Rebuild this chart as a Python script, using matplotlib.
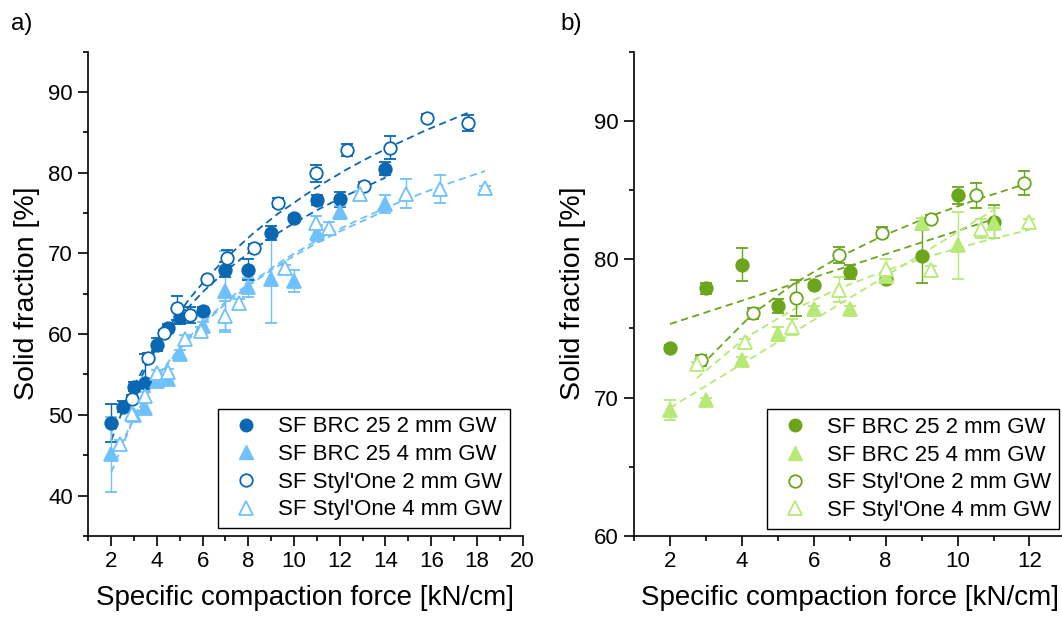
import numpy as np
import matplotlib.pyplot as plt
from matplotlib.lines import Line2D
from matplotlib.ticker import MultipleLocator

plt.rcParams['font.family'] = ['Liberation Sans', 'DejaVu Sans']

# colours
blue_dark = '#0A67B2'
blue_light = '#6EC1FC'
green_dark = '#6AA51C'
green_light = '#B6E975'

labels = ["SF BRC 25 2 mm GW", "SF BRC 25 4 mm GW",
          "SF Styl'One 2 mm GW", "SF Styl'One 4 mm GW"]

# ---- panel a) ----
a_brc2_x = [2, 2.5, 3, 3.5, 4, 4.5, 5, 6, 7, 8, 9, 10, 11, 12, 14]
a_brc2_y = [49.0, 51.0, 53.5, 53.9, 58.7, 60.7, 62.1, 62.9, 68.0, 68.0, 72.5, 74.4, 76.6, 76.7, 80.5]
a_brc2_e = [2.3, 0.7, 0.6, 3.6, 0.8, 0.5, 0.9, 0.4, 0.9, 1.3, 0.9, 0.3, 0.6, 0.9, 0.8]

a_brc4_x = [2, 3, 3.5, 4, 4.5, 5, 6, 7, 8, 9, 10, 11, 12, 14]
a_brc4_y = [45.1, 50.0, 50.9, 54.2, 54.5, 57.5, 61.0, 65.4, 65.8, 66.8, 66.6, 72.5, 75.1, 76.1]
a_brc4_e = [4.6, 0.5, 0.8, 0.4, 0.4, 0.5, 0.5, 4.9, 1.2, 5.4, 1.4, 1.0, 0.8, 1.1]

a_sty2_x = [2.9, 3.6, 4.3, 4.9, 5.45, 6.2, 7.05, 8.25, 9.3, 10.95, 12.3, 13.05, 14.2, 15.8, 17.6]
a_sty2_y = [52.0, 57.1, 60.1, 63.2, 62.4, 66.8, 69.4, 70.7, 76.3, 79.9, 82.8, 78.4, 83.1, 86.8, 86.1]
a_sty2_e = [0.5, 0.6, 0.4, 1.5, 1.0, 0.3, 1.0, 0.5, 0.6, 1.1, 0.8, 0.4, 1.4, 0.4, 1.0]

a_sty4_x = [2.4, 2.9, 3.5, 4.0, 4.5, 5.25, 5.95, 7.0, 7.6, 9.6, 10.95, 11.55, 12.9, 14.9, 16.4, 18.35]
a_sty4_y = [46.4, 50.1, 52.3, 55.2, 55.3, 59.4, 60.4, 62.2, 63.8, 68.2, 73.8, 73.1, 77.3, 77.4, 78.0, 78.1]
a_sty4_e = [0.5, 0.4, 0.5, 0.4, 0.4, 0.5, 0.5, 1.9, 0.6, 0.4, 0.8, 0.8, 0.4, 1.8, 1.7, 0.3]

# ---- panel b) ----
b_brc2_x = [2, 3, 4, 5, 6, 7, 8, 9, 10, 11]
b_brc2_y = [73.6, 77.9, 79.6, 76.6, 78.1, 79.1, 78.6, 80.2, 84.6, 82.7]
b_brc2_e = [0.2, 0.4, 1.2, 0.5, 0.2, 0.5, 0.3, 1.9, 0.6, 1.2]

b_brc4_x = [2, 3, 4, 5, 6, 7, 8, 9, 10, 11]
b_brc4_y = [69.1, 69.8, 72.7, 74.6, 76.4, 76.4, 78.8, 82.6, 81.0, 82.6]
b_brc4_e = [0.7, 0.2, 0.2, 0.5, 0.2, 0.2, 0.3, 0.4, 2.4, 1.1]

b_sty2_x = [2.85, 4.3, 5.5, 6.7, 7.9, 9.25, 10.5, 11.85]
b_sty2_y = [72.7, 76.1, 77.2, 80.3, 81.9, 82.9, 84.6, 85.5]
b_sty2_e = [0.4, 0.4, 1.3, 0.6, 0.4, 0.3, 0.9, 0.9]

b_sty4_x = [2.75, 4.1, 5.4, 6.7, 8.0, 9.25, 10.65, 12.0]
b_sty4_y = [72.4, 74.0, 75.1, 77.8, 79.3, 79.2, 82.2, 82.7]
b_sty4_e = [0.2, 0.2, 0.6, 0.9, 0.7, 0.3, 0.7, 0.2]


def draw_series(ax, x, y, e, marker, color, filled, fit='log'):
    mfc = color if filled else 'white'
    ax.errorbar(x, y, yerr=e, fmt=marker, ms=9 if marker == 'o' else 10,
                mfc=mfc, mec=color, mew=1.3, ecolor=color, elinewidth=1.0,
                capsize=4.5, capthick=1.0, ls='none', zorder=3)
    # fit line, evaluated at the measured forces
    xs = np.sort(np.asarray(x, dtype=float))
    if fit == 'log':
        k, d = np.polyfit(np.log(x), y, 1)
        ys = k * np.log(xs) + d
    else:
        k, d = np.polyfit(x, y, 1)
        ys = k * xs + d
    ax.plot(xs, ys, ls=(0, (4, 2.5)), color=color, lw=1.3, zorder=2)


def style_axes(ax, xmax, ymin, xmajor):
    ax.spines['top'].set_visible(False)
    ax.spines['right'].set_visible(False)
    ax.spines['left'].set_linewidth(1.2)
    ax.spines['bottom'].set_linewidth(1.2)
    ax.set_xlim(1, xmax)
    ax.set_ylim(ymin, 95)
    ax.xaxis.set_major_locator(MultipleLocator(xmajor))
    ax.xaxis.set_minor_locator(MultipleLocator(1))
    ax.yaxis.set_major_locator(MultipleLocator(10))
    ax.yaxis.set_minor_locator(MultipleLocator(5))
    ax.tick_params(which='major', direction='out', length=7, width=1.2, labelsize=16, pad=4)
    ax.tick_params(which='minor', direction='out', length=3.5, width=1.2)
    ax.set_xlabel('Specific compaction force [kN/cm]', fontsize=20, labelpad=9)
    ax.set_ylabel('Solid fraction [%]', fontsize=20.5, labelpad=6)


def add_legend(ax, colors, anchor):
    dark, light = colors
    handles = [
        Line2D([], [], ls='none', marker='o', ms=9, mfc=dark, mec=dark),
        Line2D([], [], ls='none', marker='^', ms=10, mfc=light, mec=light),
        Line2D([], [], ls='none', marker='o', ms=9, mfc='white', mec=dark, mew=1.3),
        Line2D([], [], ls='none', marker='^', ms=10, mfc='white', mec=light, mew=1.3),
    ]
    leg = ax.legend(handles, labels, loc='lower left', bbox_to_anchor=anchor,
                    borderaxespad=0, fontsize=16, frameon=True, fancybox=False,
                    edgecolor='black', framealpha=1, labelspacing=0.3,
                    borderpad=0.35, handlelength=1.8, handletextpad=0.55)
    leg.get_frame().set_linewidth(1.0)
    leg.set_clip_on(False)


fig = plt.figure(figsize=(10.62, 6.19), dpi=100)
ax1 = fig.add_axes([0.0832, 0.1341, 0.4089, 0.7827])
ax2 = fig.add_axes([0.5970, 0.1341, 0.4062, 0.7827])

draw_series(ax1, a_brc2_x, a_brc2_y, a_brc2_e, 'o', blue_dark, True)
draw_series(ax1, a_brc4_x, a_brc4_y, a_brc4_e, '^', blue_light, True)
draw_series(ax1, a_sty2_x, a_sty2_y, a_sty2_e, 'o', blue_dark, False)
draw_series(ax1, a_sty4_x, a_sty4_y, a_sty4_e, '^', blue_light, False)
style_axes(ax1, 20, 35, 2)
add_legend(ax1, (blue_dark, blue_light), (0.298, 0.016))

draw_series(ax2, b_brc2_x, b_brc2_y, b_brc2_e, 'o', green_dark, True, fit='lin')
draw_series(ax2, b_brc4_x, b_brc4_y, b_brc4_e, '^', green_light, True, fit='lin')
draw_series(ax2, b_sty2_x, b_sty2_y, b_sty2_e, 'o', green_dark, False)
draw_series(ax2, b_sty4_x, b_sty4_y, b_sty4_e, '^', green_light, False)
style_axes(ax2, 13, 60, 2)
add_legend(ax2, (green_dark, green_light), (0.308, 0.015))

fig.text(0.010, 0.961, 'a)', fontsize=17.5, va='center', ha='left')
fig.text(0.528, 0.961, 'b)', fontsize=17.5, va='center', ha='left')

fig.savefig('out.png', dpi=100)
